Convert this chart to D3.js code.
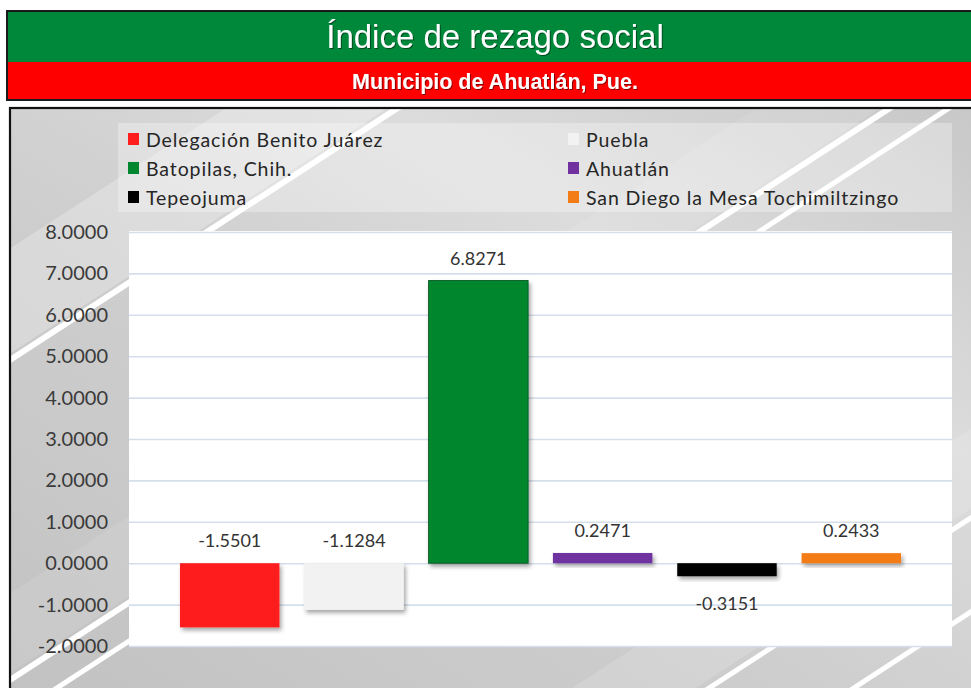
<!DOCTYPE html>
<html>
<head>
<meta charset="utf-8">
<script src="https://cdn.jsdelivr.net/npm/d3@7"></script>
<style>
  html, body { margin: 0; padding: 0; background: #ffffff; }
  svg { display: block; }
</style>
</head>
<body>
<svg id="chart" width="971" height="688"></svg>
<script>
// ---- data ----
const title = "Índice de rezago social";
const subtitle = "Municipio de Ahuatlán, Pue.";
const categories = ["Delegación Benito Juárez", "Puebla", "Batopilas, Chih.", "Ahuatlán", "Tepeojuma", "San Diego la Mesa Tochimiltzingo"];
const values = [-1.5501, -1.1284, 6.8271, 0.2471, -0.3151, 0.2433];
const valueLabels = ["-1.5501", "-1.1284", "6.8271", "0.2471", "-0.3151", "0.2433"];
const colors = ["#ff1e1e", "#f2f2f2", "#00872f", "#7030a0", "#000000", "#f47c16"];
const labelSides = ["top", "top", "top", "top", "bottom", "top"];
const yTicks = [-2, -1, 0, 1, 2, 3, 4, 5, 6, 7, 8];
const legendOrder = [0, 1, 2, 3, 4, 5];

// ---- layout ----
const W = 971, H = 688;
const plot = { left: 129, right: 952, top: 232, bottom: 646 };
const svg = d3.select("#chart");
const defs = svg.append("defs");

// gradient background
const grad = defs.append("linearGradient").attr("id", "bg")
  .attr("x1", "0").attr("y1", "1").attr("x2", "1").attr("y2", "0");
grad.append("stop").attr("offset", "0").attr("stop-color", "#c2c2c2");
grad.append("stop").attr("offset", "0.45").attr("stop-color", "#cfcfcf");
grad.append("stop").attr("offset", "0.7").attr("stop-color", "#dcdcdc");
grad.append("stop").attr("offset", "1").attr("stop-color", "#c8c8c8");

const shadow = defs.append("filter").attr("id", "shadow")
  .attr("x", "-20%").attr("y", "-20%").attr("width", "140%").attr("height", "160%");
shadow.append("feDropShadow").attr("dx", 2).attr("dy", 3).attr("stdDeviation", 2.2)
  .attr("flood-color", "#000").attr("flood-opacity", 0.35);

const tshadow = defs.append("filter").attr("id", "tshadow");
tshadow.append("feDropShadow").attr("dx", 1).attr("dy", 1).attr("stdDeviation", 0.6)
  .attr("flood-color", "#000").attr("flood-opacity", 0.5);

defs.append("clipPath").attr("id", "frameClip")
  .append("rect").attr("x", 10).attr("y", 108).attr("width", W - 10).attr("height", H - 108);

// ---- title box ----
svg.append("rect").attr("x", 7).attr("y", 11).attr("width", W).attr("height", 51).attr("fill", "#00883a");
svg.append("rect").attr("x", 7).attr("y", 62).attr("width", W).attr("height", 38).attr("fill", "#ff0000");
svg.append("rect").attr("x", 7).attr("y", 11).attr("width", W).attr("height", 89)
  .attr("fill", "none").attr("stroke", "#1a1a1a").attr("stroke-width", 2);
svg.append("text").attr("x", 495).attr("y", 48).attr("text-anchor", "middle")
  .attr("font-family", "'Liberation Sans', Arial, sans-serif").attr("font-size", 33)
  .attr("fill", "#ffffff").attr("filter", "url(#tshadow)").text(title);
svg.append("text").attr("x", 495).attr("y", 89).attr("text-anchor", "middle")
  .attr("font-family", "'Liberation Sans', Arial, sans-serif").attr("font-size", 21.5)
  .attr("font-weight", "bold").attr("fill", "#ffffff").attr("filter", "url(#tshadow)").text(subtitle);

// ---- chart frame background ----
const bg = svg.append("g").attr("clip-path", "url(#frameClip)");
bg.append("rect").attr("x", 10).attr("y", 108).attr("width", W - 10).attr("height", H - 108).attr("fill", "url(#bg)");
// lighter diagonal bands
const slope = -0.65;
function band(b1, b2, fill, op) {
  const x0 = 0, x1 = W;
  bg.append("path")
    .attr("d", `M${x0},${b1 + slope * x0} L${x1},${b1 + slope * x1} L${x1},${b2 + slope * x1} L${x0},${b2 + slope * x0} Z`)
    .attr("fill", fill).attr("opacity", op);
}
band(255, 360, "#ffffff", 0.25);
band(600, 680, "#ffffff", 0.1);
band(1060, 1140, "#ffffff", 0.15);
// white stripes
[[363, 7], [683, 7], [722, 6], [1146, 6], [1240, 6]].forEach(([b, w]) => band(b, b + w, "#ffffff", 1));

// legend box
bg.append("rect").attr("x", 118).attr("y", 123).attr("width", plot.right - 118).attr("height", 89)
  .attr("fill", "#ffffff").attr("opacity", 0.3);

// frame border
svg.append("rect").attr("x", 10).attr("y", 108).attr("width", W + 10).attr("height", H)
  .attr("fill", "none").attr("stroke", "#111").attr("stroke-width", 2.2);

// ---- scales ----
const x = d3.scaleBand().domain(categories).range([plot.left, plot.right]).paddingInner(0.2).paddingOuter(0.41);
const y = d3.scaleLinear().domain([-2, 8]).range([plot.bottom, plot.top]);

// plot area
svg.append("rect").attr("x", plot.left).attr("y", plot.top - 1)
  .attr("width", plot.right - plot.left).attr("height", plot.bottom - plot.top + 2).attr("fill", "#ffffff");

// gridlines + tick labels via axis
const fmt = d3.formatLocale({ decimal: ".", thousands: ",", grouping: [3], currency: ["$", ""], minus: "-" }).format(".4f");
const yAxis = d3.axisLeft(y).tickValues(yTicks).tickSize(-(plot.right - plot.left)).tickPadding(21)
  .tickFormat(fmt);
const ag = svg.append("g").attr("transform", `translate(${plot.left},0)`).call(yAxis);
ag.select(".domain").remove();
ag.selectAll(".tick line").attr("stroke", "#d5dfeb").attr("stroke-width", 1.6);
ag.selectAll(".tick text").attr("font-family", "Lato, 'Open Sans', sans-serif").attr("font-size", 20)
  .attr("fill", "#3a3a3a");

// ---- bars ----
svg.append("g").selectAll("rect").data(values).join("rect")
  .attr("x", (d, i) => x(categories[i]))
  .attr("width", x.bandwidth())
  .attr("y", d => y(Math.max(0, d)))
  .attr("height", d => Math.abs(y(d) - y(0)))
  .attr("fill", (d, i) => colors[i])
  .attr("stroke", (d, i) => i === 2 ? "#0a5e26" : "none")
  .attr("stroke-width", 1)
  .attr("filter", "url(#shadow)");

// data labels
svg.append("g").selectAll("text").data(values).join("text")
  .attr("x", (d, i) => x(categories[i]) + x.bandwidth() / 2)
  .attr("y", (d, i) => labelSides[i] === "top" ? y(Math.max(0, d)) - 23 : y(d) + 27)
  .attr("text-anchor", "middle").attr("dominant-baseline", "central")
  .attr("font-family", "Lato, 'Open Sans', sans-serif").attr("font-size", 18)
  .attr("fill", "#333333")
  .text((d, i) => valueLabels[i]);

// ---- legend ----
const legCols = [128, 568];
const legRows = [139, 168, 197];
const leg = svg.append("g").selectAll("g").data(legendOrder).join("g")
  .attr("transform", (d, k) => `translate(${legCols[k % 2]},${legRows[Math.floor(k / 2)]})`);
leg.append("rect").attr("x", 0).attr("y", -6).attr("width", 11).attr("height", 12)
  .attr("fill", d => colors[d]);
leg.append("text").attr("x", 18).attr("y", 0).attr("dominant-baseline", "central")
  .attr("font-family", "Lato, 'Open Sans', sans-serif").attr("font-size", 19.5)
  .attr("letter-spacing", 0.9)
  .attr("fill", "#262626").text(d => categories[d]);
</script>
</body>
</html>
